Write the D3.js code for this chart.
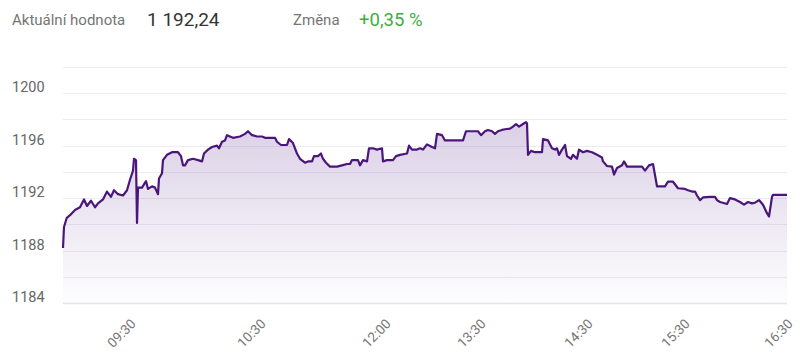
<!DOCTYPE html>
<html><head><meta charset="utf-8">
<script src="https://cdn.jsdelivr.net/npm/d3@7"></script>
<style>
html,body{margin:0;padding:0;background:#fff;}
svg{display:block;font-family:Roboto,"Noto Sans",sans-serif;}
</style></head>
<body><svg id="c" width="800" height="358"></svg>
<script>
// header
const headerLabel = "Aktuální hodnota";
const headerValue = "1 192,24";
const changeLabel = "Změna";
const changeValue = "+0,35 %";

// sample position along the trading session (ordinal axis) and index value
const samples = [0,0.5,1.9,3.5,6,8.5,10.5,12,14,16,17.5,20,22,24,25.5,27.5,30,32,33.5,35,35.5,36.5,37,37.5,39.5,41.5,42.5,44.5,46,47.5,48,49.5,50,52,54.5,57.5,59,60,61,62.5,65,67.5,69.5,70.5,72.5,74.5,77,78,79.5,81,82,83.5,85,88.5,91,92.5,94.5,97,99.5,101,106,107,109,112,113,115,117,118.5,121,122.5,124.5,125.5,127.5,129,130,131.5,133.5,137,139.5,142,143.5,144.5,147.5,148.5,150,152,153,155,157,159.5,160,162,165,166.5,168.5,172,173,174.5,177,178.5,180,182,184.5,186,187,189.5,191,200,201.5,207.5,209,211,212.5,214.5,216,217.5,219.5,221,223.5,225,226.5,228,230,231.5,232,232.5,234,236,239.5,240,242.5,244.5,246,247,248,249.5,251,252,254,255,257,258,260,262,264.5,267,269.5,270,272,274.5,275.5,277,279.5,280.5,282,289.5,291,293,295,297,301,302.5,305,307.5,311,312.5,314.5,316,317,318.5,320,323.5,326,327,328.5,332,333.5,336,338.5,340.5,342.5,344.5,346,348,350,352,353,354.5,355,362];
const values = [1188.2,1189.8,1190.5,1190.7,1191.1,1191.3,1191.9,1191.4,1191.8,1191.3,1191.6,1191.9,1192.5,1192.1,1192.6,1192.3,1192.2,1192.6,1193.4,1194.1,1195.0,1194.9,1190.1,1192.8,1192.8,1193.3,1192.7,1192.9,1192.8,1192.3,1193.5,1193.9,1194.9,1195.3,1195.5,1195.5,1195.2,1194.5,1194.5,1194.9,1195.0,1194.9,1194.8,1195.4,1195.7,1195.9,1196.0,1195.8,1196.3,1196.4,1196.8,1196.7,1196.6,1196.7,1196.9,1197.1,1196.8,1196.7,1196.7,1196.6,1196.6,1196.3,1196.05,1196.05,1196.5,1196.2,1195.4,1195.0,1194.7,1194.8,1194.8,1195.2,1195.2,1195.4,1195.0,1194.7,1194.4,1194.4,1194.5,1194.6,1194.6,1194.9,1194.9,1194.5,1194.9,1194.8,1195.8,1195.8,1195.7,1195.8,1194.8,1194.9,1194.9,1195.2,1195.3,1195.4,1196.0,1195.7,1195.7,1195.8,1195.7,1196.1,1195.9,1195.8,1196.9,1196.8,1196.4,1196.4,1197.1,1197.1,1196.8,1197.1,1197.2,1197.1,1196.9,1197.1,1197.2,1197.25,1197.3,1197.45,1197.65,1197.45,1197.65,1197.8,1197.7,1195.3,1195.6,1195.5,1195.5,1196.5,1196.4,1195.8,1195.7,1195.8,1195.3,1195.7,1196.05,1195.2,1195.0,1195.3,1195.0,1195.7,1195.5,1195.6,1195.5,1195.3,1195.1,1194.8,1194.45,1194.4,1193.8,1194.3,1194.5,1194.8,1194.4,1194.4,1194.1,1194.5,1194.6,1192.9,1192.9,1193.25,1193.25,1192.75,1192.7,1192.6,1192.5,1192.5,1192.2,1191.85,1192.05,1192.1,1192.1,1191.85,1191.7,1191.55,1192.0,1191.9,1191.7,1191.5,1191.7,1191.6,1191.65,1191.85,1191.5,1190.85,1190.6,1192.1,1192.25,1192.24];

const xTickSamples = [33.5, 98.5, 161, 208.5, 262, 310.5, 362];
const xTickLabels = ["09:30","10:30","12:00","13:30","14:30","15:30","16:30"];
const yGridValues = [1184,1186,1188,1190,1192,1194,1196,1198,1200,1202];
const yLabelValues = [1184,1188,1192,1196,1200];

const W = 800, H = 358;
const m = {left:63, right:13, top:67, bottom:55};
const svg = d3.select("#c");

// header texts
svg.append("text").attr("x",12).attr("y",25).attr("font-size",15).attr("fill","#757575").text(headerLabel);
svg.append("text").attr("x",147).attr("y",25.5).attr("font-size",19).attr("fill","#333").text(headerValue);
svg.append("text").attr("x",293).attr("y",25).attr("font-size",15).attr("fill","#757575").text(changeLabel);
svg.append("text").attr("x",359).attr("y",25.5).attr("font-size",18.5).attr("fill","#3fae3f").text(changeValue);

const x = d3.scaleLinear().domain([0, 362]).range([m.left, W - m.right]);
const y = d3.scaleLinear().domain([1184, 1202]).range([H - m.bottom, m.top]);

// grid
svg.append("g").selectAll("line").data(yGridValues).join("line")
  .attr("x1", m.left).attr("x2", W - m.right)
  .attr("y1", d => Math.round(y(d)) + 0.5).attr("y2", d => Math.round(y(d)) + 0.5)
  .attr("stroke", d => d === 1184 ? "#e3e3ea" : "#ececf1").attr("stroke-width", d => d === 1184 ? 1.5 : 1);

// y labels
svg.append("g").selectAll("text").data(yLabelValues).join("text")
  .attr("x", 12).attr("y", d => Math.round(y(d)) - 1.5)
  .attr("font-size", 14.5).attr("fill", "#666").text(d => d);

// gradient
const defs = svg.append("defs");
const grad = defs.append("linearGradient").attr("id","g").attr("x1",0).attr("y1",0).attr("x2",0).attr("y2",1);
grad.append("stop").attr("offset","0%").attr("stop-color","#5b2a8c").attr("stop-opacity",0.22);
grad.append("stop").attr("offset","100%").attr("stop-color","#5b2a8c").attr("stop-opacity",0.01);

const data = samples.map((s,i) => ({s, v: values[i]}));
const area = d3.area().x(d => x(d.s)).y0(y(1184)).y1(d => y(d.v));
const line = d3.line().x(d => x(d.s)).y(d => y(d.v));

svg.append("path").datum(data).attr("d", area).attr("fill","url(#g)");
svg.append("path").datum(data).attr("d", line).attr("fill","none")
  .attr("stroke","#4b167c").attr("stroke-width",2.2).attr("stroke-linejoin","round");

// x labels
const xl = svg.append("g");
xTickSamples.forEach((s,i) => {
  xl.append("text")
    .attr("transform", `translate(${x(s)},${318}) rotate(-45)`)
    .attr("text-anchor","end").attr("dy","0.7em")
    .attr("font-size",13.5).attr("fill","#777").text(xTickLabels[i]);
});
</script></body></html>
